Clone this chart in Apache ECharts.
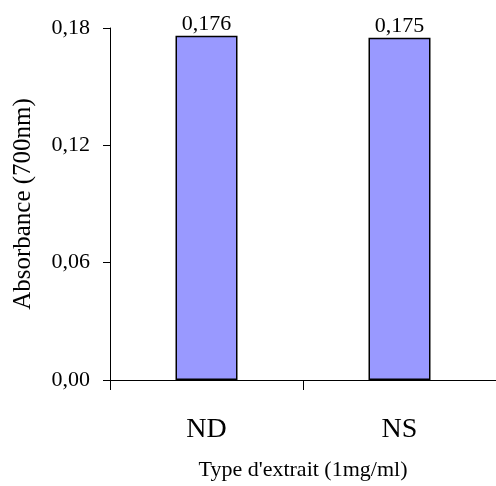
<!DOCTYPE html>
<html>
<head>
<meta charset="utf-8">
<script src="https://cdn.jsdelivr.net/npm/echarts@6/dist/echarts.min.js"></script>
<style>html,body{margin:0;padding:0;background:#fff}#c{width:496px;height:486px}</style>
</head>
<body>
<div id="c"></div>
<script>
var categories = ['ND', 'NS'];
var values = [0.176, 0.175];
var yTicks = [0, 0.06, 0.12, 0.18];

var FONT = '"Liberation Serif", "Times New Roman", serif';
var fmt = function (v, d) { return v.toFixed(d).replace('.', ','); };

var chart = echarts.init(document.getElementById('c'), null, {renderer: 'canvas'});
chart.setOption({
  animation: false,
  backgroundColor: '#fff',
  grid: {left: 110, top: 28, width: 394, height: 354, containLabel: false},
  xAxis: {
    type: 'category',
    data: categories,
    boundaryGap: true,
    axisLine: {lineStyle: {color: '#000', width: 1}},
    axisTick: {show: true, length: 10, inside: false, lineStyle: {color: '#000'}},
    axisLabel: {color: '#000', fontFamily: FONT, fontSize: 28, margin: 36},
    name: "Type d'extrait (1mg/ml)",
    nameLocation: 'middle',
    nameGap: 79,
    nameTextStyle: {color: '#000', fontFamily: FONT, fontSize: 22}
  },
  yAxis: {
    type: 'value',
    min: yTicks[0],
    max: yTicks[yTicks.length - 1],
    interval: yTicks[1] - yTicks[0],
    splitLine: {show: false},
    axisLine: {show: true, lineStyle: {color: '#000', width: 1}},
    axisTick: {show: true, length: 7, lineStyle: {color: '#000'}},
    axisLabel: {color: '#000', fontFamily: FONT, fontSize: 22, margin: 20,
      formatter: function (v) { return fmt(v, 2); }},
    name: 'Absorbance (700nm)',
    nameLocation: 'middle',
    nameGap: 74,
    nameRotate: 90,
    nameTextStyle: {color: '#000', fontFamily: FONT, fontSize: 25}
  },
  series: [{
    type: 'bar',
    data: values,
    barWidth: 62,
    itemStyle: {color: '#9999FF', borderColor: '#000', borderWidth: 1.5},
    label: {show: true, position: 'top', distance: 1, color: '#000',
      fontFamily: FONT, fontSize: 22,
      formatter: function (p) { return fmt(p.value, 3); }}
  }]
});
</script>
</body>
</html>
